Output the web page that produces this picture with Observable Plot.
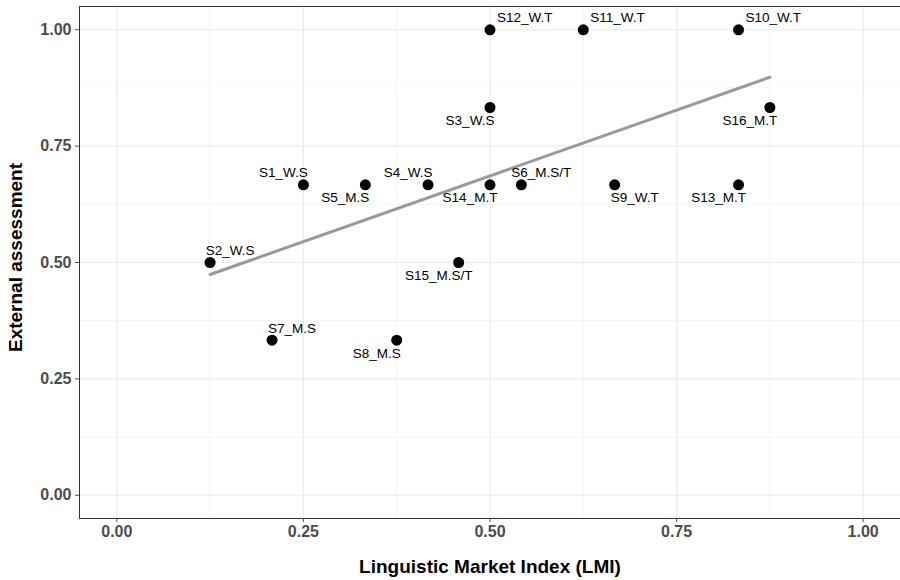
<!DOCTYPE html>
<html>
<head>
<meta charset="utf-8">
<script src="https://cdn.jsdelivr.net/npm/d3@7"></script>
<script src="https://cdn.jsdelivr.net/npm/@observablehq/plot@0.6"></script>
<style>
  html, body { margin: 0; padding: 0; background: #ffffff; }
  #chart svg [aria-label="x-axis tick label"],
  #chart svg [aria-label="y-axis tick label"] { font-weight: bold; font-size: 16px; }
</style>
</head>
<body>
<div id="chart"></div>
<script>
// ---- data ----
const speakers = ["S1_W.S","S2_W.S","S3_W.S","S4_W.S","S5_M.S","S6_M.S/T","S7_M.S","S8_M.S",
                  "S9_W.T","S10_W.T","S11_W.T","S12_W.T","S13_M.T","S14_M.T","S15_M.S/T","S16_M.T"];
const lmi = [0.25, 0.125, 0.5, 0.417, 0.333, 0.542, 0.208, 0.375,
             0.667, 0.833, 0.625, 0.5, 0.833, 0.5, 0.458, 0.875];
const external = [0.667, 0.5, 0.833, 0.667, 0.667, 0.667, 0.333, 0.333,
                  0.667, 1, 1, 1, 0.667, 0.667, 0.5, 0.833];
// label side relative to the point (like ggrepel output)
const labelSide = ["nw","ne","sw","nw","sw","ne","ne","sw",
                   "se","top","top","top","sw","sw","sw","sw"];
const xTicks = [0, 0.25, 0.5, 0.75, 1];
const yTicks = [0, 0.25, 0.5, 0.75, 1];
const xMinor = [0.125, 0.375, 0.625, 0.875];
const yMinor = [0.125, 0.375, 0.625, 0.875];
const xTitle = "Linguistic Market Index (LMI)";
const yTitle = "External assessment";

const data = speakers.map((s, i) => ({label: s, x: lmi[i], y: external[i], side: labelSide[i]}));

const sideStyle = {
  ne:  {dx: 20,  dy: -12, textAnchor: "middle"},
  nw:  {dx: -20, dy: -12, textAnchor: "middle"},
  se:  {dx: 20,  dy: 13,  textAnchor: "middle"},
  sw:  {dx: -20, dy: 13,  textAnchor: "middle"},
  top: {dx: 7,   dy: -12, textAnchor: "start"}
};

const labelMarks = Object.entries(sideStyle).map(([side, st]) =>
  Plot.text(data.filter(d => d.side === side), {
    x: "x", y: "y", text: "label",
    dx: st.dx, dy: st.dy, textAnchor: st.textAnchor,
    fontSize: 13.5, fill: "#000"
  })
);

const chart = Plot.plot({
  width: 900,
  height: 580,
  marginLeft: 79,
  marginRight: 0,
  marginTop: 6,
  marginBottom: 62,
  style: {fontFamily: "'Liberation Sans', Arial, Helvetica, sans-serif", fontSize: "14px", background: "#ffffff", color: "#000"},
  x: {domain: [-0.05, 1.05]},
  y: {domain: [-0.05, 1.05]},
  marks: [
    Plot.ruleX(xMinor, {stroke: "#f2f2f2", strokeWidth: 0.8}),
    Plot.ruleY(yMinor, {stroke: "#f2f2f2", strokeWidth: 0.8}),
    Plot.ruleX(xTicks, {stroke: "#ebebeb", strokeWidth: 1.2}),
    Plot.ruleY(yTicks, {stroke: "#ebebeb", strokeWidth: 1.2}),
    Plot.ruleX([-0.05], {stroke: "#333333", strokeWidth: 1}),
    Plot.ruleY([-0.05, 1.05], {stroke: "#333333", strokeWidth: 1}),
    Plot.axisX({ticks: xTicks, tickFormat: d3.format(".2f"), tickSize: 4, tickPadding: 3,
                fontSize: 16, fontWeight: "bold", color: "#4d4d4d", label: null}),
    Plot.axisY({ticks: yTicks, tickFormat: d3.format(".2f"), tickSize: 4, tickPadding: 4,
                fontSize: 16, fontWeight: "bold", color: "#4d4d4d", label: null}),
    Plot.dot(data, {x: "x", y: "y", r: 5.5, fill: "#000", stroke: "none"}),
    Plot.linearRegressionY(data, {x: "x", y: "y", stroke: "#999999", strokeWidth: 3, ci: 0}),
    ...labelMarks,
    Plot.text([xTitle], {frameAnchor: "bottom", lineAnchor: "middle", textAnchor: "middle",
                         dy: 48, fontSize: 19, fontWeight: "bold", fill: "#000"}),
    Plot.text([yTitle], {frameAnchor: "left", lineAnchor: "middle", textAnchor: "middle",
                         rotate: -90, dx: -64, dy: -5, fontSize: 19, fontWeight: "bold", fill: "#000"})
  ]
});

document.getElementById("chart").appendChild(chart);
</script>
</body>
</html>
